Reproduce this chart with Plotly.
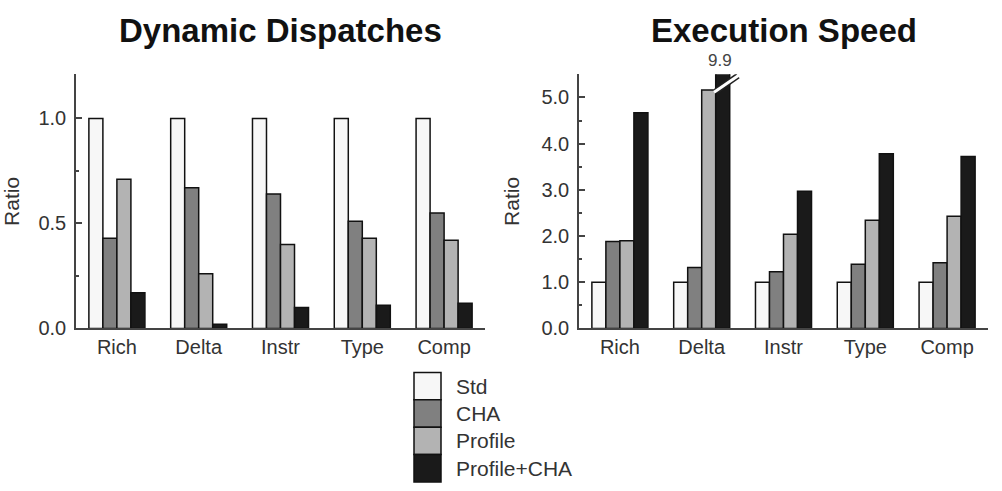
import plotly.graph_objects as go

categories = ["Rich", "Delta", "Instr", "Type", "Comp"]
series_names = ["Std", "CHA", "Profile", "Profile+CHA"]
series_colors = ["#f7f7f7", "#808080", "#b3b3b3", "#1a1a1a"]

dispatch_std = [1.0, 1.0, 1.0, 1.0, 1.0]
dispatch_cha = [0.43, 0.67, 0.64, 0.51, 0.55]
dispatch_profile = [0.71, 0.26, 0.40, 0.43, 0.42]
dispatch_profile_cha = [0.17, 0.02, 0.10, 0.11, 0.12]

speed_std = [1.0, 1.0, 1.0, 1.0, 1.0]
speed_cha = [1.88, 1.32, 1.23, 1.39, 1.42]
speed_profile = [1.90, 5.16, 2.04, 2.34, 2.43]
speed_profile_cha = [4.67, 9.9, 2.97, 3.78, 3.72]

left_ticks = [0.0, 0.5, 1.0]
right_ticks = [0.0, 1.0, 2.0, 3.0, 4.0, 5.0]

W, H = 1002, 491
FONT = "Liberation Sans, Arial, sans-serif"
AX = "#444444"
TXT = "#333333"

fig = go.Figure()
dispatch = [dispatch_std, dispatch_cha, dispatch_profile, dispatch_profile_cha]
speed = [speed_std, speed_cha, speed_profile, speed_profile_cha]
for name, color, vals in zip(series_names, series_colors, dispatch):
    fig.add_trace(go.Bar(x=categories, y=vals, name=name, marker=dict(color=color, line=dict(color="#111111", width=1.5)),
                         xaxis="x", yaxis="y", showlegend=False, hoverinfo="x+y+name"))
for name, color, vals in zip(series_names, series_colors, speed):
    fig.add_trace(go.Bar(x=categories, y=vals, name=name, marker=dict(color=color, line=dict(color="#111111", width=1.5)),
                         xaxis="x2", yaxis="y2", showlegend=False, hoverinfo="x+y+name"))

ydom = [1 - 336 / H, 1 - 76 / H]
xdom1 = [76 / W, 485 / W]
xdom2 = [579 / W, 988 / W]

common_x = dict(type="category", range=[-0.5, 4.5], showline=True, linecolor=AX, linewidth=1.5,
                ticks="", showgrid=False, zeroline=False,
                tickfont=dict(family=FONT, size=20, color=TXT))
common_y = dict(showline=True, linecolor=AX, linewidth=1.5, showgrid=False, zeroline=False,
                ticks="inside", ticklen=6, tickwidth=1.5, tickcolor=AX, tickformat=".1f",
                tickfont=dict(family=FONT, size=20, color=TXT), ticklabelstandoff=4,
                title=dict(text="Ratio", font=dict(family=FONT, size=21, color=TXT), standoff=16))

fig.update_layout(
    width=W, height=H, margin=dict(l=0, r=0, t=0, b=0),
    paper_bgcolor="white", plot_bgcolor="white",
    barmode="group", bargap=0.315, bargroupgap=0,
    showlegend=False,
    xaxis=dict(domain=xdom1, anchor="y", **common_x),
    yaxis=dict(domain=ydom, anchor="x", range=[0, 1.21], tickvals=left_ticks,
               minor=dict(dtick=0.25, ticks="inside", ticklen=3, tickcolor=AX, tickwidth=1.5), **common_y),
    xaxis2=dict(domain=xdom2, anchor="y2", **common_x),
    yaxis2=dict(domain=ydom, anchor="x2", range=[0, 5.5], tickvals=right_ticks,
                minor=dict(dtick=0.5, ticks="inside", ticklen=3, tickcolor=AX, tickwidth=1.5), **common_y),
)

# Titles
fig.add_annotation(text="<b>Dynamic Dispatches</b>", x=(xdom1[0] + xdom1[1]) / 2, y=1 - 31 / H,
                   xref="paper", yref="paper", showarrow=False, xanchor="center", yanchor="middle",
                   font=dict(family=FONT, size=33, color="#111111"))
fig.add_annotation(text="<b>Execution Speed</b>", x=(xdom2[0] + xdom2[1]) / 2, y=1 - 31 / H,
                   xref="paper", yref="paper", showarrow=False, xanchor="center", yanchor="middle",
                   font=dict(family=FONT, size=33, color="#111111"))

# Axis break marker on the clipped Delta Profile+CHA bar
group_w = 1 - 0.315
bar_w = group_w / 4
di = categories.index("Delta")
x_left = di - group_w / 2 + 3 * bar_w
x_right = di + group_w / 2 + 0.1
y_lo = speed_profile[di] - 0.03
y_hi = 5.47
fig.add_shape(type="line", xref="x2", yref="y2", x0=x_left, x1=x_right, y0=y_lo, y1=y_hi,
              line=dict(color="#222222", width=6))
fig.add_shape(type="line", xref="x2", yref="y2", x0=x_left - 0.02, x1=x_right + 0.02, y0=y_lo - 0.02, y1=y_hi + 0.02,
              line=dict(color="white", width=3))
fig.add_annotation(text=f"{speed_profile_cha[di]:.1f}", x=di + group_w / 2 - bar_w / 2 - 0.03, y=5.5,
                   xref="x2", yref="y2", showarrow=False, yanchor="bottom", yshift=2,
                   font=dict(family=FONT, size=17, color="#444444"))

# Manual legend (large stacked swatches)
lx0, lx1 = 414 / W, 441 / W
top = 381
step = 28
for i, (name, color) in enumerate(zip(series_names, series_colors)):
    y0p = top + i * step
    y1p = y0p + step
    fig.add_shape(type="rect", xref="paper", yref="paper", x0=lx0, x1=lx1,
                  y0=1 - y1p / H, y1=1 - y0p / H,
                  fillcolor=color, line=dict(color="#111111", width=1.5))
    fig.add_annotation(text=name, x=454 / W, y=1 - (y0p + step / 2) / H, xref="paper", yref="paper",
                       showarrow=False, xanchor="left", yanchor="middle",
                       font=dict(family=FONT, size=21, color=TXT))

fig.write_html("out.html")
